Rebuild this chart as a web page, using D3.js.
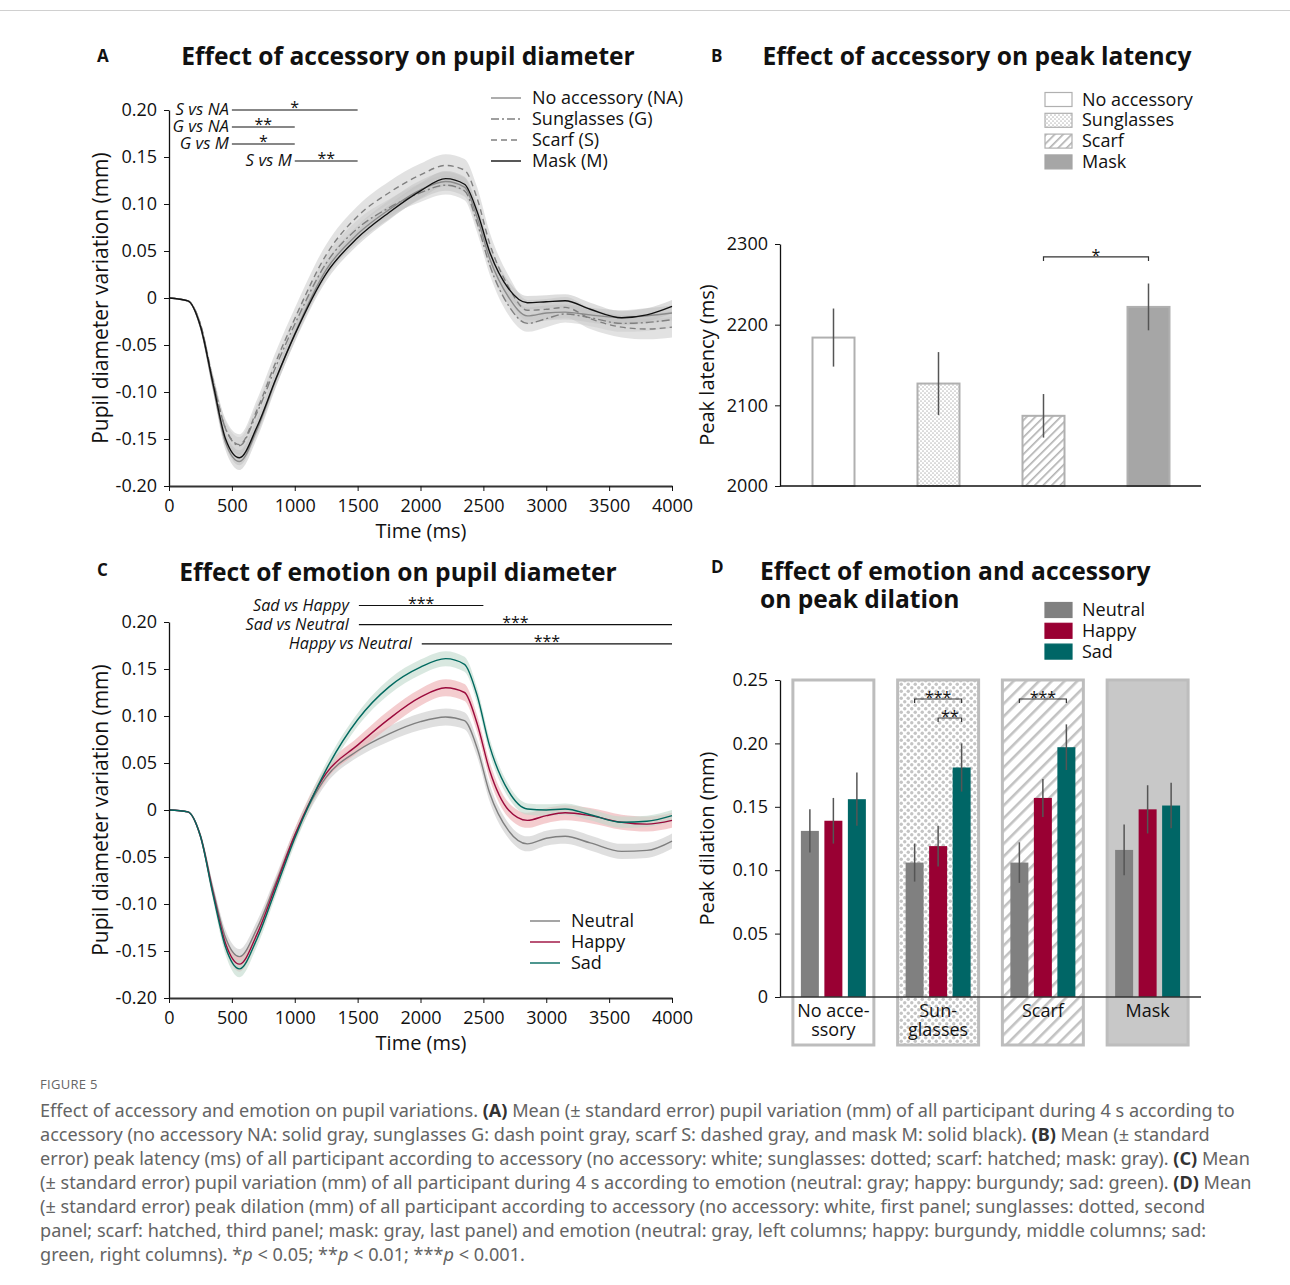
<!DOCTYPE html>
<html>
<head>
<meta charset="utf-8">
<script src="https://cdn.jsdelivr.net/npm/d3@7/dist/d3.min.js"></script>
<style>
  body { margin: 0; background: #fff; }
  svg { display: block; }
  text { font-family: "Open Sans", "Noto Sans", sans-serif; fill: #111; }
</style>
</head>
<body>
<svg id="fig" width="1290" height="1285"></svg>
<script>
// ---- data ----
const times = [0,150,250,350,450,560,700,850,1000,1250,1500,1750,2000,2200,2350,2450,2550,2700,2850,3000,3150,3350,3600,3800,4000];

// panel A: accessory curves (mm)
const naMean = [0,-0.003,-0.031,-0.094,-0.154,-0.174,-0.140,-0.087,-0.038,0.030,0.068,0.094,0.115,0.124,0.118,0.086,0.042,0.001,-0.019,-0.016,-0.015,-0.018,-0.021,-0.019,-0.016];
const gMean  = [0,-0.003,-0.028,-0.088,-0.139,-0.157,-0.122,-0.073,-0.028,0.037,0.074,0.096,0.112,0.120,0.114,0.080,0.035,-0.008,-0.027,-0.022,-0.017,-0.021,-0.027,-0.026,-0.023];
const sMean  = [0,-0.003,-0.028,-0.088,-0.139,-0.156,-0.119,-0.068,-0.022,0.046,0.087,0.112,0.131,0.141,0.136,0.106,0.058,0.012,-0.013,-0.012,-0.010,-0.022,-0.031,-0.033,-0.031];
const mMean  = [0,-0.003,-0.030,-0.091,-0.150,-0.170,-0.137,-0.086,-0.039,0.026,0.064,0.091,0.114,0.127,0.121,0.092,0.049,0.010,-0.005,-0.004,-0.003,-0.012,-0.021,-0.018,-0.009];
const naSE = [0,0.001,0.003,0.006,0.008,0.009,0.009,0.008,0.008,0.008,0.009,0.010,0.010,0.010,0.010,0.010,0.009,0.009,0.009,0.008,0.008,0.008,0.008,0.008,0.008];
const gSE  = [0,0.001,0.003,0.006,0.008,0.009,0.009,0.008,0.008,0.008,0.009,0.009,0.010,0.010,0.010,0.010,0.010,0.010,0.009,0.009,0.009,0.009,0.009,0.009,0.009];
const sSE  = [0,0.001,0.003,0.007,0.010,0.011,0.011,0.011,0.011,0.011,0.011,0.012,0.012,0.012,0.012,0.012,0.012,0.012,0.011,0.011,0.011,0.011,0.011,0.011,0.011];
const mSE  = [0,0.001,0.003,0.006,0.007,0.008,0.008,0.008,0.008,0.008,0.008,0.008,0.008,0.008,0.008,0.008,0.008,0.008,0.007,0.007,0.007,0.007,0.007,0.007,0.007];

const sigALabels = ["S vs NA", "G vs NA", "G vs M", "S vs M"];
const sigAStart  = [500, 500, 500, 1000];
const sigAEnd    = [1500, 1000, 1000, 1500];
const sigAStars  = ["*", "**", "*", "**"];

// panel B: peak latency (ms)
const accessories = ["No accessory", "Sunglasses", "Scarf", "Mask"];
const latency   = [2184, 2127, 2087, 2222];
const latencySE = [36, 39, 27, 29];

// panel C: emotion curves (mm)
const neutralMean = [0,-0.002,-0.027,-0.085,-0.136,-0.156,-0.126,-0.077,-0.027,0.035,0.063,0.081,0.094,0.099,0.095,0.066,0.018,-0.022,-0.036,-0.030,-0.028,-0.035,-0.044,-0.043,-0.033];
const happyMean   = [0,-0.002,-0.028,-0.088,-0.142,-0.164,-0.132,-0.080,-0.027,0.039,0.069,0.097,0.120,0.130,0.125,0.092,0.042,0.000,-0.011,-0.006,-0.003,-0.006,-0.013,-0.015,-0.011];
const sadMean     = [0,-0.002,-0.028,-0.090,-0.146,-0.169,-0.137,-0.084,-0.030,0.043,0.096,0.131,0.152,0.161,0.155,0.122,0.068,0.020,0.001,0.000,0.001,-0.005,-0.013,-0.012,-0.006];
const neutralSE = [0,0.001,0.003,0.006,0.008,0.008,0.008,0.007,0.007,0.007,0.007,0.008,0.009,0.009,0.009,0.009,0.009,0.008,0.008,0.008,0.008,0.008,0.008,0.008,0.008];
const happySE   = [0,0.001,0.003,0.006,0.007,0.008,0.008,0.007,0.007,0.007,0.008,0.009,0.009,0.009,0.009,0.009,0.009,0.008,0.008,0.008,0.008,0.008,0.008,0.008,0.008];
const sadSE     = [0,0.001,0.003,0.006,0.008,0.009,0.008,0.007,0.007,0.007,0.007,0.008,0.008,0.008,0.008,0.008,0.008,0.007,0.006,0.006,0.006,0.006,0.006,0.006,0.006];

const sigCLabels = ["Sad vs Happy", "Sad vs Neutral", "Happy vs Neutral"];
const sigCStart  = [1510, 1510, 2010];
const sigCEnd    = [2500, 4000, 4000];
const sigCStars  = ["***", "***", "***"];

// panel D: peak dilation (mm)
const accessoryTicks = [["No acce-", "ssory"], ["Sun-", "glasses"], ["Scarf"], ["Mask"]];
const emotions = ["Neutral", "Happy", "Sad"];
const dilNeutral = [0.131, 0.106, 0.106, 0.116];
const dilHappy   = [0.139, 0.119, 0.157, 0.148];
const dilSad     = [0.156, 0.181, 0.197, 0.151];
const seNeutral  = [0.017, 0.015, 0.016, 0.020];
const seHappy    = [0.018, 0.016, 0.015, 0.019];
const seSad      = [0.021, 0.019, 0.018, 0.018];
// significance brackets: accessory, from emotion, to emotion
const sigDAcc   = [1, 1, 2];
const sigDFrom  = [0, 1, 0];
const sigDTo    = [2, 2, 2];
const sigDStars = ["***", "**", "***"];

const svg = d3.select("#fig");

// ---- patterns ----
const defs = svg.append("defs");
function dots(id, size, r, col) {
  const p = defs.append("pattern").attr("id", id).attr("patternUnits", "userSpaceOnUse")
    .attr("width", size).attr("height", size);
  p.append("rect").attr("width", size).attr("height", size).attr("fill", "#fff");
  p.append("circle").attr("cx", size / 4).attr("cy", size / 4).attr("r", r).attr("fill", col);
  p.append("circle").attr("cx", size * 3 / 4).attr("cy", size * 3 / 4).attr("r", r).attr("fill", col);
}
function hatch(id, size, w, col) {
  const p = defs.append("pattern").attr("id", id).attr("patternUnits", "userSpaceOnUse")
    .attr("width", size).attr("height", size).attr("patternTransform", "rotate(45)");
  p.append("rect").attr("width", size).attr("height", size).attr("fill", "#fff");
  p.append("rect").attr("width", w).attr("height", size).attr("fill", col);
}
dots("dotsB", 4, 0.85, "#bdbdbd");
hatch("hatchB", 6, 1.6, "#b0b0b0");
dots("dotsD", 7, 1.7, "#c4c4c4");
hatch("hatchD", 9, 2.6, "#c2c2c2");

// top rule
svg.append("line").attr("x1", 0).attr("x2", 1290).attr("y1", 10.5).attr("y2", 10.5)
  .attr("stroke", "#d0d0d0");

function letter(x, y, t) {
  svg.append("text").attr("x", x).attr("y", y).attr("font-size", 17).attr("font-weight", 700).text(t);
}
function title(x, y, t, anchor) {
  svg.append("text").attr("x", x).attr("y", y).attr("font-size", 24.6).attr("font-weight", 700)
    .attr("text-anchor", anchor || "middle").text(t);
}
function styleAxis(g, size) {
  g.selectAll("path").attr("stroke", "#111").attr("stroke-width", 1.3);
  g.selectAll("line").attr("stroke", "#111");
  g.selectAll("text").attr("font-size", size || 18).attr("fill", "#111")
    .style("font-family", '"Open Sans", sans-serif');
}
const fmt = d => Math.abs(d) < 1e-9 ? "0" : d3.format(".2f")(d).replace("\u2212", "-");

// ---- curve panels (A, C) ----
function curvePanel(yTop, yBot, series, sig, sigY0, sigDy, sigGap) {
  const x = d3.scaleLinear().domain([0, 4000]).range([169, 672]);
  const y = d3.scaleLinear().domain([-0.2, 0.2]).range([yBot, yTop]);
  const g = svg.append("g");

  const area = (m, s) => d3.area().curve(d3.curveMonotoneX)
    .x((d, i) => x(times[i])).y0((d, i) => y(m[i] - s[i])).y1((d, i) => y(m[i] + s[i]))(m);
  const line = m => d3.line().curve(d3.curveMonotoneX).x((d, i) => x(times[i])).y(d => y(d))(m);

  series.forEach(s => g.append("path").attr("d", area(s.mean, s.se))
    .attr("fill", s.band).attr("opacity", s.op));
  series.forEach(s => g.append("path").attr("d", line(s.mean)).attr("fill", "none")
    .attr("stroke", s.color).attr("stroke-width", s.w || 1.4).attr("stroke-dasharray", s.dash || null));

  const ya = g.append("g").attr("transform", "translate(169,0)")
    .call(d3.axisLeft(y).tickValues(d3.range(-0.2, 0.2001, 0.05)).tickFormat(fmt).tickSize(5).tickSizeOuter(0).tickPadding(7));
  styleAxis(ya);
  const xa = g.append("g").attr("transform", `translate(0,${yBot})`)
    .call(d3.axisBottom(x).tickValues(d3.range(0, 4001, 500)).tickFormat(d3.format("d")).tickSize(5).tickSizeOuter(0).tickPadding(8));
  styleAxis(xa);
  xa.select("path").attr("stroke", "#333").attr("stroke-width", 2);

  g.append("text").attr("x", 421).attr("y", yBot + 52).attr("text-anchor", "middle")
    .attr("font-size", 20).text("Time (ms)");
  g.append("text").attr("transform", `translate(108,${(yTop + yBot) / 2}) rotate(-90)`)
    .attr("text-anchor", "middle").attr("font-size", 21).text("Pupil diameter variation (mm)");

  sig.labels.forEach((lab, i) => {
    const ly = sigY0 + i * sigDy;
    const x0 = x(sig.start[i]), x1 = x(sig.end[i]);
    g.append("line").attr("x1", x0).attr("x2", x1).attr("y1", ly).attr("y2", ly)
      .attr("stroke", "#111").attr("stroke-width", 1.2);
    g.append("text").attr("x", x0 - sigGap).attr("y", ly + 5).attr("text-anchor", "end")
      .attr("font-size", sig.size).attr("font-style", "italic").text(lab);
    g.append("text").attr("x", (x0 + x1) / 2).attr("y", ly + 3).attr("text-anchor", "middle")
      .attr("font-size", 16).text(sig.stars[i]);
  });
  return { x, y };
}

function lineLegend(x0, y0, items) {
  items.forEach((it, i) => {
    const yy = y0 + i * 21;
    svg.append("line").attr("x1", x0).attr("x2", x0 + 30).attr("y1", yy).attr("y2", yy)
      .attr("stroke", it.color).attr("stroke-width", 1.4).attr("stroke-dasharray", it.dash || null);
    svg.append("text").attr("x", x0 + 41).attr("y", yy + 6).attr("font-size", 18).text(it.name);
  });
}

// Panel A
letter(97, 62, "A");
title(408, 65, "Effect of accessory on pupil diameter");
curvePanel(110, 486, [
  { mean: sMean, se: sSE, color: "#808080", dash: "6,4", band: "#d6d6d6", op: 0.7 },
  { mean: gMean, se: gSE, color: "#808080", dash: "8,3,2,3", band: "#cccccc", op: 0.55 },
  { mean: naMean, se: naSE, color: "#8a8a8a", band: "#c4c4c4", op: 0.55 },
  { mean: mMean, se: mSE, color: "#111", band: "#bdbdbd", op: 0.5 }
], { labels: sigALabels, start: sigAStart, end: sigAEnd, stars: sigAStars, size: 16.8 }, 110, 17, 3);
lineLegend(491, 98, [
  { name: "No accessory (NA)", color: "#8a8a8a" },
  { name: "Sunglasses (G)", color: "#808080", dash: "8,3,2,3" },
  { name: "Scarf (S)", color: "#808080", dash: "6,4" },
  { name: "Mask (M)", color: "#111" }
]);

// Panel C
letter(97, 576, "C");
title(398, 581, "Effect of emotion on pupil diameter");
curvePanel(622, 998, [
  { mean: neutralMean, se: neutralSE, color: "#7f7f7f", band: "#d9d9d9", op: 0.85 },
  { mean: happyMean, se: happySE, color: "#9b0a3c", band: "#eeb2b6", op: 0.65 },
  { mean: sadMean, se: sadSE, color: "#00695f", band: "#bfd8cb", op: 0.6 }
], { labels: sigCLabels, start: sigCStart, end: sigCEnd, stars: sigCStars, size: 16.2 }, 605.5, 19.2, 10);
lineLegend(530, 921, [
  { name: "Neutral", color: "#7f7f7f" },
  { name: "Happy", color: "#9b0a3c" },
  { name: "Sad", color: "#00695f" }
]);

// ---- Panel B ----
letter(711, 62, "B");
title(977, 65, "Effect of accessory on peak latency");
const fillsB = ["#fff", "url(#dotsB)", "url(#hatchB)", "#a6a6a6"];
const xB = d3.scaleBand().domain(accessories).range([781, 1201]).paddingInner(0.6).paddingOuter(0.3);
const yB = d3.scaleLinear().domain([2000, 2300]).range([486, 244]);
const gB = svg.append("g");
gB.selectAll("rect.bar").data(accessories).join("rect").attr("class", "bar")
  .attr("x", d => xB(d)).attr("width", xB.bandwidth())
  .attr("y", (d, i) => yB(latency[i])).attr("height", (d, i) => yB(2000) - yB(latency[i]))
  .attr("fill", (d, i) => fillsB[i]).attr("stroke", "#b0b0b0").attr("stroke-width", 2);
gB.selectAll("line.err").data(accessories).join("line").attr("class", "err")
  .attr("x1", d => xB(d) + xB.bandwidth() / 2).attr("x2", d => xB(d) + xB.bandwidth() / 2)
  .attr("y1", (d, i) => yB(latency[i] - latencySE[i])).attr("y2", (d, i) => yB(latency[i] + latencySE[i]))
  .attr("stroke", "#555").attr("stroke-width", 1.5);
const yaB = gB.append("g").attr("transform", "translate(780,0)")
  .call(d3.axisLeft(yB).tickValues([2000, 2100, 2200, 2300]).tickFormat(d3.format("d")).tickSize(5).tickSizeOuter(0).tickPadding(7));
styleAxis(yaB);
gB.append("line").attr("x1", 780).attr("x2", 1201).attr("y1", 486).attr("y2", 486)
  .attr("stroke", "#111").attr("stroke-width", 1.3);
gB.append("text").attr("transform", `translate(714,${(244 + 486) / 2}) rotate(-90)`)
  .attr("text-anchor", "middle").attr("font-size", 20).text("Peak latency (ms)");

function bracket(g, x0, x1, y, stars, tick) {
  g.append("path").attr("d", `M${x0},${y + tick}V${y}H${x1}V${y + tick}`)
    .attr("fill", "none").attr("stroke", "#333").attr("stroke-width", 1.2);
  g.append("text").attr("x", (x0 + x1) / 2).attr("y", y + 4).attr("text-anchor", "middle")
    .attr("font-size", 16).text(stars);
}
bracket(gB, xB("Scarf") + xB.bandwidth() / 2, xB("Mask") + xB.bandwidth() / 2, yB(2284), "*", 4);

function boxLegend(x0, y0, names, fills, h) {
  names.forEach((n, i) => {
    const yy = y0 + i * 20.8;
    svg.append("rect").attr("x", x0).attr("y", yy - h / 2).attr("width", 27).attr("height", h)
      .attr("fill", fills[i]).attr("stroke", fills[i] === "#fff" || fills[i].startsWith("url") ? "#b0b0b0" : fills[i])
      .attr("stroke-width", 1.2);
    svg.append("text").attr("x", x0 + 37).attr("y", yy + 6).attr("font-size", 18).text(n);
  });
}
boxLegend(1045, 99.5, accessories, fillsB, 14);

// ---- Panel D ----
letter(711, 573, "D");
const tD = svg.append("text").attr("x", 760).attr("y", 580).attr("font-size", 24.6).attr("font-weight", 700);
tD.append("tspan").attr("x", 760).text("Effect of emotion and accessory");
tD.append("tspan").attr("x", 760).attr("dy", 28).text("on peak dilation");

const emoColors = ["#808080", "#990033", "#006666"];
const dilation = [dilNeutral, dilHappy, dilSad];
const dilSE = [seNeutral, seHappy, seSad];
const fillsD = ["#fff", "url(#dotsD)", "url(#hatchD)", "#c8c8c8"];

const xD = d3.scaleBand().domain(accessories).range([781, 1200]).paddingInner(0.227).paddingOuter(0.1135);
const bw = xD.bandwidth();
const xSub = d3.scaleBand().domain(emotions).range([bw / 2 - 35.25, bw / 2 + 35.25]).paddingInner(0.234).paddingOuter(0.117);
const yD = d3.scaleLinear().domain([0, 0.25]).range([997, 680]);
const gD = svg.append("g");

gD.selectAll("rect.panel").data(accessories).join("rect").attr("class", "panel")
  .attr("x", d => xD(d)).attr("width", bw).attr("y", yD(0.25)).attr("height", 1045 - yD(0.25))
  .attr("fill", (d, i) => fillsD[i]).attr("stroke", "#bdbdbd").attr("stroke-width", 3);

emotions.forEach((e, k) => {
  const grp = gD.append("g");
  grp.selectAll("rect").data(accessories).join("rect")
    .attr("x", d => xD(d) + xSub(e)).attr("width", xSub.bandwidth())
    .attr("y", (d, i) => yD(dilation[k][i])).attr("height", (d, i) => yD(0) - yD(dilation[k][i]))
    .attr("fill", emoColors[k]);
  grp.selectAll("line").data(accessories).join("line")
    .attr("x1", d => xD(d) + xSub(e) + xSub.bandwidth() / 2).attr("x2", d => xD(d) + xSub(e) + xSub.bandwidth() / 2)
    .attr("y1", (d, i) => yD(dilation[k][i] - dilSE[k][i])).attr("y2", (d, i) => yD(dilation[k][i] + dilSE[k][i]))
    .attr("stroke", "#555").attr("stroke-width", 1.5);
});

const yaD = gD.append("g").attr("transform", "translate(780,0)")
  .call(d3.axisLeft(yD).tickValues(d3.range(0, 0.2501, 0.05)).tickFormat(fmt).tickSize(5).tickSizeOuter(0).tickPadding(7));
styleAxis(yaD);
gD.append("line").attr("x1", 780).attr("x2", 1201).attr("y1", 997).attr("y2", 997)
  .attr("stroke", "#333").attr("stroke-width", 1.3);
gD.append("text").attr("transform", `translate(714,${(680 + 997) / 2}) rotate(-90)`)
  .attr("text-anchor", "middle").attr("font-size", 20).text("Peak dilation (mm)");

accessoryTicks.forEach((lines, i) => {
  const cx = xD(accessories[i]) + bw / 2;
  const t = gD.append("text").attr("x", cx).attr("y", 1017).attr("text-anchor", "middle").attr("font-size", 18);
  lines.forEach((s, j) => t.append("tspan").attr("x", cx).attr("dy", j ? 19 : 0).text(s));
});

sigDAcc.forEach((a, i) => {
  const cx = k => xD(accessories[a]) + xSub(emotions[k]) + xSub.bandwidth() / 2;
  const row = i === 1 ? 1 : 0;
  bracket(gD, cx(sigDFrom[i]), cx(sigDTo[i]), yD(0.25) + 19 + row * 19, sigDStars[i], 4);
});

boxLegend(1045, 610, emotions, emoColors, 15);

// ---- caption ----
const cap = svg.append("g");
cap.append("text").attr("x", 40).attr("y", 1089).attr("font-size", 13).attr("letter-spacing", 0.3)
  .style("fill", "#666").text("FIGURE 5");
const captionLines = [
  [["Effect of accessory and emotion on pupil variations. "], ["(A)", "b"], [" Mean (± standard error) pupil variation (mm) of all participant during 4 s according to"]],
  [["accessory (no accessory NA: solid gray, sunglasses G: dash point gray, scarf S: dashed gray, and mask M: solid black). "], ["(B)", "b"], [" Mean (± standard"]],
  [["error) peak latency (ms) of all participant according to accessory (no accessory: white; sunglasses: dotted; scarf: hatched; mask: gray). "], ["(C)", "b"], [" Mean"]],
  [["(± standard error) pupil variation (mm) of all participant during 4 s according to emotion (neutral: gray; happy: burgundy; sad: green). "], ["(D)", "b"], [" Mean"]],
  [["(± standard error) peak dilation (mm) of all participant according to accessory (no accessory: white, first panel; sunglasses: dotted, second"]],
  [["panel; scarf: hatched, third panel; mask: gray, last panel) and emotion (neutral: gray, left columns; happy: burgundy, middle columns; sad:"]],
  [["green, right columns). *"], ["p", "i"], [" < 0.05; **"], ["p", "i"], [" < 0.01; ***"], ["p", "i"], [" < 0.001."]]
];
captionLines.forEach((parts, i) => {
  const t = cap.append("text").attr("x", 40).attr("y", 1117 + i * 24).attr("font-size", 18.1)
    .style("font-family", '"Noto Sans", sans-serif').style("fill", "#646464");
  parts.forEach(p => {
    const s = t.append("tspan").text(p[0]).style("fill", p[1] === "b" ? "#333" : "#646464");
    if (p[1] === "b") s.attr("font-weight", 700);
    if (p[1] === "i") s.attr("font-style", "italic");
  });
});
</script>
</body>
</html>
